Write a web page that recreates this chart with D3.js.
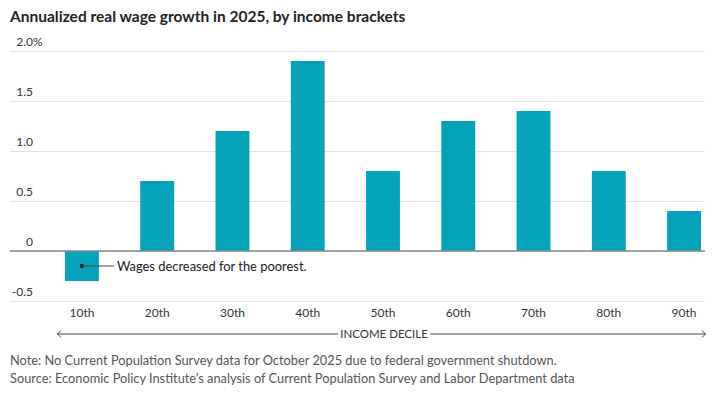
<!DOCTYPE html>
<html>
<head>
<meta charset="utf-8">
<script src="https://cdn.jsdelivr.net/npm/d3@7"></script>
<style>
  body { margin: 0; background: #fff; }
  text { font-family: Lato, "Noto Sans", sans-serif; }
</style>
</head>
<body>
<div id="chart"></div>
<script>
var deciles = ["10th", "20th", "30th", "40th", "50th", "60th", "70th", "80th", "90th"];
var growth = [-0.3, 0.7, 1.2, 1.9, 0.8, 1.3, 1.4, 0.8, 0.4];
var yTicks = [-0.5, 0, 0.5, 1.0, 1.5, 2.0];
var yTickLabels = ["-0.5", "0", "0.5", "1.0", "1.5", "2.0"];

var width = 718,
  height = 393;

var svg = d3.select("#chart")
  .append("svg")
  .attr("width", width)
  .attr("height", height);

var x = d3.scaleBand().domain(deciles).range([65, 701]).paddingInner(0.55).paddingOuter(0);
var y = d3.scaleLinear().domain([-0.5, 2.0]).range([301, 51]);

// title
svg.append("text")
  .attr("x", 10)
  .attr("y", 22)
  .attr("font-size", "15.5px")
  .attr("font-weight", "bold")
  .attr("fill", "#222")
  .text("Annualized real wage growth in 2025, by income brackets");

// grid + y labels
var yAxis = d3.axisLeft(y).tickValues(yTicks).tickSize(-695).tickFormat("");
var gy = svg.append("g")
  .attr("transform", "translate(10,0)")
  .call(yAxis);
gy.select(".domain").remove();
gy.selectAll(".tick line").attr("stroke", "#e3e3e3").attr("stroke-width", 1);

svg.selectAll(".ylab")
  .data(yTicks)
  .enter()
  .append("text")
  .attr("class", "ylab")
  .attr("x", 33)
  .attr("y", function(d) { return y(d) - 5; })
  .attr("text-anchor", "end")
  .attr("font-size", "12px")
  .attr("fill", "#333")
  .text(function(d, i) { return yTickLabels[i]; });

svg.append("text")
  .attr("x", 33)
  .attr("y", y(2.0) - 5)
  .attr("font-size", "12px")
  .attr("fill", "#333")
  .text("%");

// bars
svg.selectAll(".bar")
  .data(growth)
  .enter()
  .append("rect")
  .attr("class", "bar")
  .attr("fill", "#04a3ba")
  .attr("x", function(d, i) { return x(deciles[i]); })
  .attr("width", x.bandwidth())
  .attr("y", function(d) { return y(Math.max(0, d)); })
  .attr("height", function(d) { return Math.abs(y(d) - y(0)); });

// zero line
svg.append("line")
  .attr("x1", 10).attr("x2", 705)
  .attr("y1", y(0)).attr("y2", y(0))
  .attr("stroke", "#888")
  .attr("stroke-width", 1.5);

// x labels
svg.selectAll(".xlab")
  .data(deciles)
  .enter()
  .append("text")
  .attr("class", "xlab")
  .attr("x", function(d) { return x(d) + x.bandwidth() / 2; })
  .attr("y", 317)
  .attr("text-anchor", "middle")
  .attr("font-size", "12px")
  .attr("fill", "#333")
  .text(function(d) { return d; });

// annotation
var ax = x(deciles[0]) + x.bandwidth() / 2,
  ay = y(growth[0] / 2);
svg.append("circle").attr("cx", ax).attr("cy", ay).attr("r", 2.2).attr("fill", "#222");
svg.append("line")
  .attr("x1", ax).attr("x2", ax + 32)
  .attr("y1", ay).attr("y2", ay)
  .attr("stroke", "#444").attr("stroke-width", 1);
svg.append("text")
  .attr("x", ax + 35)
  .attr("y", ay)
  .attr("dy", "0.35em")
  .attr("font-size", "12.9px")
  .attr("fill", "#222")
  .text("Wages decreased for the poorest.");

// income decile arrow
var arrowY = 334;
svg.append("text")
  .attr("x", 384)
  .attr("y", arrowY)
  .attr("dy", "0.35em")
  .attr("text-anchor", "middle")
  .attr("font-size", "11.5px")
  .attr("fill", "#333")
  .text("INCOME DECILE");
svg.append("line").attr("x1", 57).attr("x2", 338).attr("y1", arrowY).attr("y2", arrowY)
  .attr("stroke", "#444").attr("stroke-width", 1);
svg.append("line").attr("x1", 430).attr("x2", 706).attr("y1", arrowY).attr("y2", arrowY)
  .attr("stroke", "#444").attr("stroke-width", 1);
svg.append("path").attr("d", "M61,330.5 L57.5,334 L61,337.5")
  .attr("fill", "none").attr("stroke", "#444").attr("stroke-width", 1);
svg.append("path").attr("d", "M702,330.5 L705.5,334 L702,337.5")
  .attr("fill", "none").attr("stroke", "#444").attr("stroke-width", 1);

// footnotes
svg.append("text")
  .attr("x", 10).attr("y", 365)
  .attr("font-size", "12.8px").attr("fill", "#555")
  .text("Note: No Current Population Survey data for October 2025 due to federal government shutdown.");
svg.append("text")
  .attr("x", 10).attr("y", 383)
  .attr("font-size", "12.8px").attr("fill", "#555")
  .text("Source: Economic Policy Institute\u2019s analysis of Current Population Survey and Labor Department data");
</script>
</body>
</html>
